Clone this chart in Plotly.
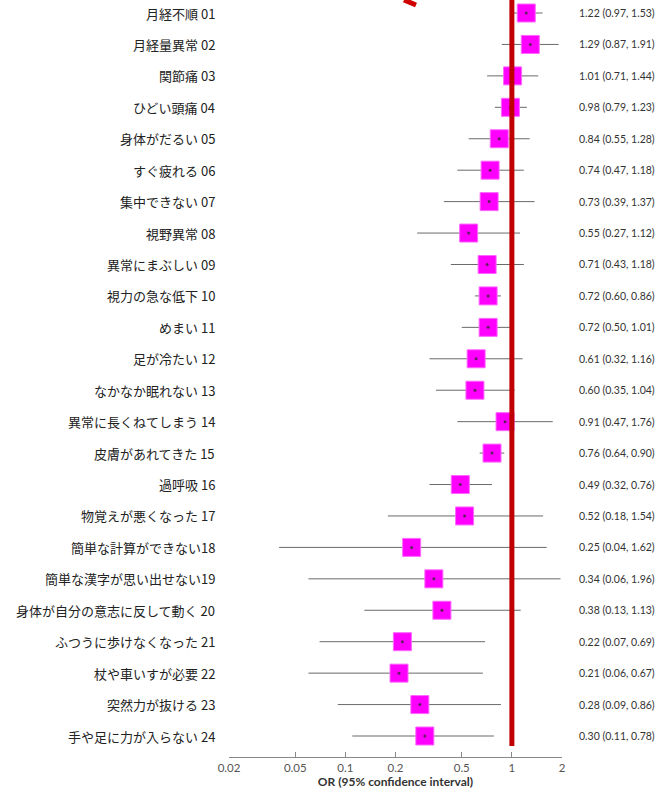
import math
import plotly.graph_objects as go

# Symptoms, odds ratios and 95% confidence limits
labels = [
    "月経不順 01", "月経量異常 02", "関節痛 03", "ひどい頭痛 04", "身体がだるい 05",
    "すぐ疲れる 06", "集中できない 07", "視野異常 08", "異常にまぶしい 09", "視力の急な低下 10",
    "めまい 11", "足が冷たい 12", "なかなか眠れない 13", "異常に長くねてしまう 14",
    "皮膚があれてきた 15", "過呼吸 16", "物覚えが悪くなった 17", "簡単な計算ができない18",
    "簡単な漢字が思い出せない19", "身体が自分の意志に反して動く 20", "ふつうに歩けなくなった 21",
    "杖や車いすが必要 22", "突然力が抜ける 23", "手や足に力が入らない 24",
]
odds_ratio = [1.22, 1.29, 1.01, 0.98, 0.84, 0.74, 0.73, 0.55, 0.71, 0.72, 0.72, 0.61,
              0.60, 0.91, 0.76, 0.49, 0.52, 0.25, 0.34, 0.38, 0.22, 0.21, 0.28, 0.30]
ci_low = [0.97, 0.87, 0.71, 0.79, 0.55, 0.47, 0.39, 0.27, 0.43, 0.60, 0.50, 0.32,
          0.35, 0.47, 0.64, 0.32, 0.18, 0.04, 0.06, 0.13, 0.07, 0.06, 0.09, 0.11]
ci_high = [1.53, 1.91, 1.44, 1.23, 1.28, 1.18, 1.37, 1.12, 1.18, 0.86, 1.01, 1.16,
           1.04, 1.76, 0.90, 0.76, 1.54, 1.62, 1.96, 1.13, 0.69, 0.67, 0.86, 0.78]
tick_vals = [0.02, 0.05, 0.1, 0.2, 0.5, 1, 2]
tick_text = ["0.02", "0.05", "0.1", "0.2", "0.5", "1", "2"]

rows = list(range(1, len(labels) + 1))
font_jp = "Noto Sans CJK JP"
font_num = "Lato"

fig = go.Figure()

# confidence interval whiskers
for r, lo, hi in zip(rows, ci_low, ci_high):
    fig.add_trace(go.Scatter(
        x=[lo, hi], y=[r, r], mode="lines",
        line=dict(color="#6a6a6a", width=1), showlegend=False, hoverinfo="skip",
    ))

# point estimates as squares
fig.add_trace(go.Scatter(
    x=odds_ratio, y=rows, mode="markers",
    marker=dict(symbol="square", size=18, color="#ff00ff",
                line=dict(color="#ff66ff", width=1)),
    showlegend=False,
))
# small centre dot on each square
fig.add_trace(go.Scatter(
    x=odds_ratio, y=rows, mode="markers",
    marker=dict(symbol="circle", size=3, color="#602060"),
    showlegend=False, hoverinfo="skip",
))

# reference line at OR = 1
fig.add_shape(type="line", xref="x", yref="y", x0=1, x1=1, y0=0.586, y1=24.32,
              line=dict(color="#c00000", width=5), layer="above")
# red pen stroke at the top edge
fig.add_shape(type="line", xref="paper", yref="paper",
              x0=(404 - 229) / 333, y0=1.0, x1=(416 - 229) / 333, y1=1 - 5 / 757,
              line=dict(color="#d00000", width=5))

annotations = []
for r, lab in zip(rows, labels):
    annotations.append(dict(
        x=(217 - 229) / 333, xref="paper", y=r, yref="y", text=lab,
        showarrow=False, xanchor="right", yanchor="middle",
        font=dict(family=font_jp, size=13, color="#222222"),
    ))
for r, o, lo, hi in zip(rows, odds_ratio, ci_low, ci_high):
    annotations.append(dict(
        x=(577 - 229) / 333, xref="paper", y=r, yref="y",
        text=f"{o:.2f} ({lo:.2f}, {hi:.2f})",
        showarrow=False, xanchor="left", yanchor="middle",
        font=dict(family=font_num, size=10.5, color="#333333"),
    ))
fig.update_layout(annotations=annotations)

fig.update_xaxes(
    type="log", range=[math.log10(0.02), math.log10(2)],
    tickvals=tick_vals, ticktext=tick_text, ticks="inside", ticklen=5,
    tickcolor="#888888", showline=True, linecolor="#888888", linewidth=1,
    showgrid=False, zeroline=False,
    tickfont=dict(family=font_num, size=11.5, color="#555555"),
    title=dict(text="<b>OR (95% confidence interval)</b>", standoff=4,
               font=dict(family=font_num, size=12, color="#333333")),
)
fig.update_yaxes(range=[24.668, 0.586], showticklabels=False, showgrid=False,
                 zeroline=False, showline=False, ticks="")

fig.update_layout(
    width=657, height=792,
    margin=dict(l=229, r=95, t=0, b=35),
    plot_bgcolor="white", paper_bgcolor="white",
)

fig.write_html("out.html")
